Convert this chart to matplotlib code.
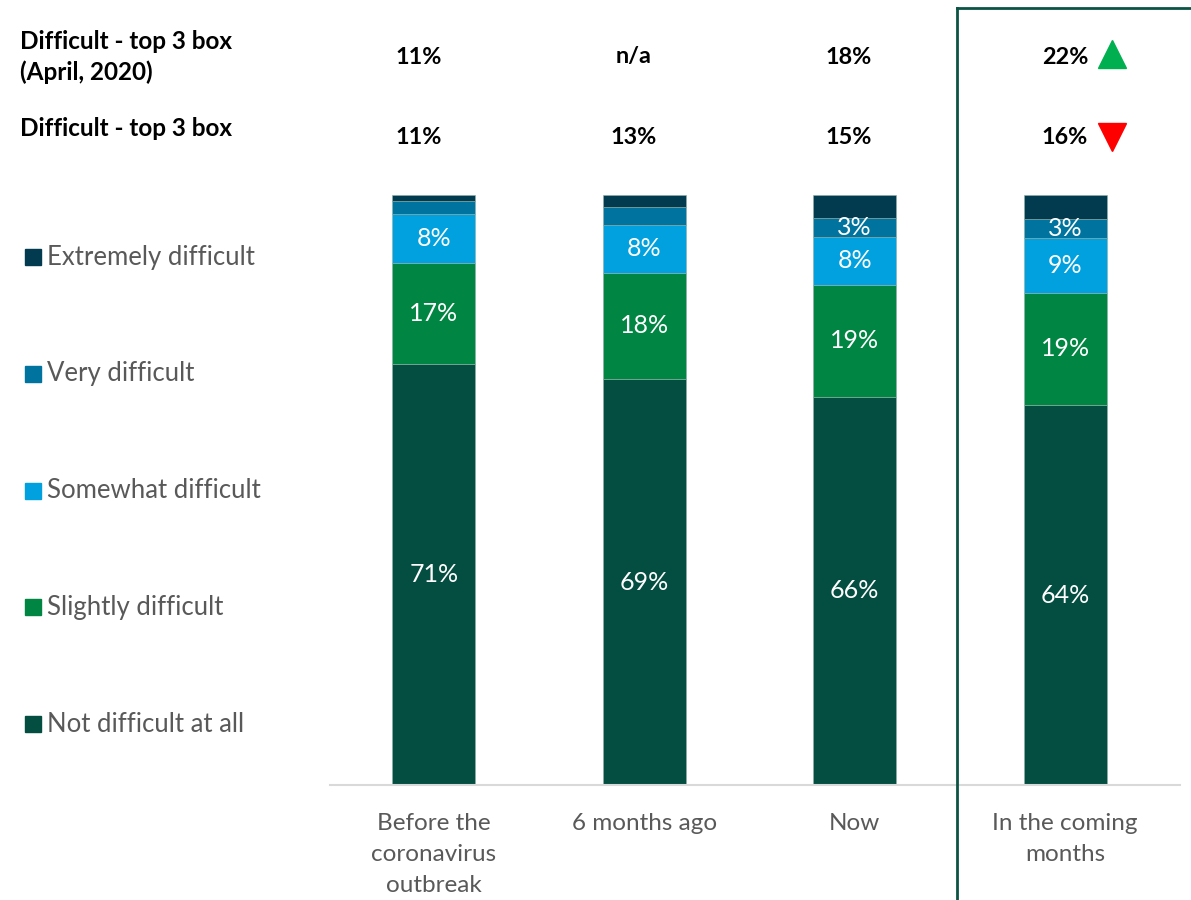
import matplotlib.pyplot as plt
from matplotlib.patches import Rectangle
from matplotlib.lines import Line2D

plt.rcParams['font.family'] = ['Lato', 'DejaVu Sans']

W, H = 1191, 900

categories = ["Before the\ncoronavirus\noutbreak", "6 months ago", "Now", "In the coming\nmonths"]
series_names = ["Not difficult at all", "Slightly difficult", "Somewhat difficult",
                "Very difficult", "Extremely difficult"]
colors = ["#034E41", "#008542", "#00A1DE", "#00739E", "#023A4F"]

# segment shares, bottom to top (hidden small ones)
not_difficult = [71.4, 68.8, 65.8, 64.4]
slightly = [17.0, 18.0, 19.0, 19.0]
somewhat = [8.3, 8.1, 8.1, 9.3]
very = [2.2, 3.0, 3.2, 3.2]
extremely = [1.1, 2.1, 3.9, 4.1]
series = [not_difficult, slightly, somewhat, very, extremely]

# which segments carry a printed label
show_label = [[True] * 4, [True] * 4, [True] * 4,
              [False, False, True, True], [False] * 4]

top3_april = ["11%", "n/a", "18%", "22%"]
top3_now = ["11%", "13%", "15%", "16%"]


def fx(px):
    return px / W


def fy(py):
    return 1 - py / H


fig = plt.figure(figsize=(W / 100, H / 100), dpi=100)
ax = fig.add_axes([fx(330), fy(785), fx(1180) - fx(330), fy(195) - fy(785)])

x = range(len(categories))
bottom = [0] * len(categories)
for name, vals, col, mask in zip(series_names, series, colors, show_label):
    ax.bar(x, vals, width=0.394, bottom=bottom, color=col, edgecolor='#8fb0a8', linewidth=0.4)
    for i, v in enumerate(vals):
        if mask[i]:
            ax.text(i, bottom[i] + v / 2, f"{round(v)}%", ha='center', va='center',
                    color='white', fontsize=18)
    bottom = [b + v for b, v in zip(bottom, vals)]

ax.set_xlim(-0.494, 3.546)
ax.set_ylim(0, 100)
ax.set_yticks([])
ax.set_xticks(list(x))
ax.set_xticklabels(categories, fontsize=17.5, color='#595959', linespacing=1.6)
ax.tick_params(axis='x', length=0, pad=20)
for s in ['top', 'right', 'left']:
    ax.spines[s].set_visible(False)
ax.spines['bottom'].set_color('#d9d9d9')
ax.spines['bottom'].set_linewidth(1.5)

# legend, top item first
legend_y = [257, 374, 491, 607, 724]
for name, col, yy in zip(series_names[::-1], colors[::-1], legend_y):
    fig.patches.append(Rectangle((fx(25), fy(yy + 8)), fx(16), 16 / H, color=col,
                                 transform=fig.transFigure))
    fig.text(fx(47), fy(yy), name, fontsize=18.5, color='#595959', va='center')

# header rows
fig.text(fx(20), fy(57), "Difficult - top 3 box\n(April, 2020)", fontsize=17.5,
         fontweight='bold', va='center', linespacing=1.37)
fig.text(fx(20), fy(128), "Difficult - top 3 box", fontsize=17.5, fontweight='bold', va='center')
for cx, a, b in zip([419, 634, 849, 1065], top3_april, top3_now):
    fig.text(fx(cx), fy(57), a, fontsize=16.8, fontweight='bold', ha='center', va='center')
    fig.text(fx(cx), fy(138), b, fontsize=16.8, fontweight='bold', ha='center', va='center')

fig.add_artist(Line2D([fx(1112)], [fy(54)], marker='^', markersize=20, color='#00B050',
                      transform=fig.transFigure))
fig.add_artist(Line2D([fx(1112)], [fy(137)], marker='v', markersize=20, color='#FF0000',
                      transform=fig.transFigure))

# highlight frame around the last column
fig.add_artist(Line2D([fx(957), fx(957)], [0, fy(8)], color='#0B5445', lw=2,
                      transform=fig.transFigure))
fig.add_artist(Line2D([fx(957), 1.0], [fy(8), fy(8)], color='#0B5445', lw=2,
                      transform=fig.transFigure))

fig.savefig("out.png", dpi=100)
